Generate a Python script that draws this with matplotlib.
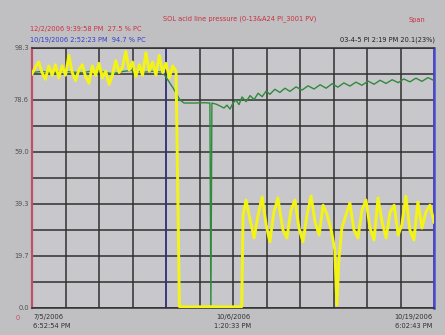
import numpy as np
import matplotlib
matplotlib.use("Agg")
import matplotlib.pyplot as plt

# trend values, x in grid units (12 divisions of 10), y in % of span
yellow_x = [0, 1, 2, 3, 4, 5, 6, 7, 8, 9, 10, 11, 12, 13, 14, 15, 16, 17, 18, 19, 20, 21,
            22, 23, 24, 25, 26, 27, 28, 29, 30, 31, 32, 33, 34, 35, 36, 37, 38, 39, 40, 41,
            42, 43, 44.0, 48.0, 53.0, 58.0, 62.6,
            63.0, 63.9, 65.1, 66.3, 67.5, 68.7, 69.9, 71.0, 72.2, 73.4, 74.9, 76.1, 77.3,
            78.5, 79.7, 80.9, 82.1, 83.3, 84.5, 85.7, 86.9, 88.1, 89.3, 90.4, 91.0, 91.6,
            92.5, 93.7, 94.9, 96.1, 97.3, 98.5, 99.7, 100.9, 102.1, 103.3, 104.5, 105.7,
            106.9, 108.1, 109.3, 110.4, 111.6, 112.8, 114.0, 115.2, 116.4, 117.6, 118.8, 120.0]
yellow_y = [88.5, 91, 93, 89, 86.5, 91.5, 88, 92, 87, 91.5, 88, 95.5, 89, 86, 90, 92, 87.5,
            85, 91.5, 88, 92.5, 87, 89.5, 84.5, 88, 93.5, 89, 91, 97, 90, 93, 87.5, 92, 88,
            96.5, 89.5, 93, 88, 95.5, 89, 92.5, 87, 91.5, 89.5, 0.5, 0.4, 0.5, 0.4, 0.5,
            35.2, 40.8, 33.3, 26.5, 35.2, 42.0, 31.4, 25.0, 36.3, 41.6, 29.5, 26.5, 37.0,
            40.8, 30.2, 25.0, 35.2, 42.3, 32.5, 27.6, 38.9, 35.2, 29.5, 21.9, 1.1, 18.1,
            30.2, 35.2, 39.7, 29.5, 26.5, 37.0, 40.8, 30.2, 25.7, 41.6, 32.5, 26.5,
            36.3, 38.9, 27.6, 31.4, 42.3, 29.5, 25.7, 40.1, 30.2, 36.3, 38.9, 32.5]

green_x = [0, 3, 6, 9, 12, 15, 18, 21, 24, 27, 30, 33, 36, 39, 42.1,
           44.2, 45.4, 48.7, 51.6, 53.1, 53.4, 53.7, 54.9, 56.1, 57.3, 58.2, 59.1, 60.0,
           60.9, 61.8, 62.7, 63.9, 65.1, 66.3, 67.5, 68.7, 69.9, 71.0, 72.5, 74.0, 75.5,
           77.0, 78.8, 80.6, 82.4, 84.2, 86.0, 87.8, 89.6, 91.3, 93.1, 94.9, 96.7, 98.5,
           100.3, 102.1, 103.9, 105.7, 107.5, 109.3, 111.0, 112.8, 114.6, 116.4, 118.2, 120.0]
green_y = [89.0, 89.5, 88.8, 89.6, 89.2, 88.9, 89.7, 89.3, 88.6, 89.4, 89.9, 89.1, 89.5, 89.2, 83.2,
           78.6, 77.5, 77.5, 77.6, 77.5, 0.2, 77.5, 77.1, 76.4, 75.6, 76.7, 75.2, 77.5,
           78.6, 76.9, 79.8, 78.0, 80.3, 78.8, 81.2, 79.9, 82.0, 80.8, 82.7, 81.5, 83.1,
           81.9, 83.6, 82.4, 84.0, 82.8, 84.4, 83.1, 84.8, 83.5, 85.1, 83.9, 85.4, 84.2,
           85.8, 84.6, 86.1, 84.9, 86.3, 85.2, 86.6, 85.5, 86.9, 85.7, 87.1, 86.0]

span_top = 98.3
y_labels = ["98.3", "78.6", "59.0", "39.3", "19.7", "0.0"]
time_labels = [("7/5/2006", "6:52:54 PM"), ("10/6/2006", "1:20:33 PM"), ("10/19/2006", "6:02:43 PM")]

title = "SOL acid line pressure (0-13&A24 PI_3001 PV)"
cursor_red = "12/2/2006 9:39:58 PM  27.5 % PC"
cursor_blue = "10/19/2006 2:52:23 PM  94.7 % PC"
right_info = "03-4-5 PI 2:19 PM 20.1(23%)"

bg = "#c0c0c2"
fig = plt.figure(figsize=(4.45, 3.35), dpi=100, facecolor=bg)
ax = fig.add_axes([32 / 445, 27 / 335, 402 / 445, 260 / 335])
ax.set_facecolor("#c8c8cc")

ax.set_xlim(0, 120)
ax.set_ylim(0, span_top)
ax.set_xticks(np.arange(0, 121, 10))
ax.set_yticks(np.linspace(0, span_top, 11))
ax.grid(True, color="#303030", lw=1.1)
ax.tick_params(length=0, labelbottom=False, labelleft=False)
# one vertical grid line is blue on the original
ax.axvline(40, color="#34348c", lw=1.1)

for s in ["top", "bottom"]:
    ax.spines[s].set_color("#303030")
    ax.spines[s].set_linewidth(1.1)
ax.spines["left"].set_color("#c0506a")
ax.spines["left"].set_linewidth(1.6)
ax.spines["right"].set_color("#4a4ad0")
ax.spines["right"].set_linewidth(1.8)

ax.plot(green_x, green_y, color="#2f8a3c", lw=1.0, zorder=3)
ax.plot(yellow_x, yellow_y, color="#f4f414", lw=2.1, zorder=4)

# y labels on every other grid line
for i, lab in enumerate(y_labels):
    ax.text(-0.008, 1 - i * 0.2, lab, transform=ax.transAxes, ha="right", va="center",
            fontsize=4.8, color="#505050")
ax.text(-0.03, -0.04, "0", transform=ax.transAxes, ha="right", va="center",
        fontsize=4.8, color="#c0506a")

# time labels below
for (d, t), xf, ha in zip(time_labels, [0.003, 0.5, 0.995], ["left", "center", "right"]):
    ax.text(xf, -0.022, d, transform=ax.transAxes, ha=ha, va="top", fontsize=4.8, color="#303030")
    ax.text(xf, -0.056, t, transform=ax.transAxes, ha=ha, va="top", fontsize=4.8, color="#303030")

fig.text(240 / 445, 1 - 19 / 335, title, ha="center", va="center", fontsize=4.8, color="#c83040")
fig.text(425 / 445, 1 - 20 / 335, "Span", ha="right", va="center", fontsize=4.8, color="#c83040")
fig.text(30 / 445, 1 - 29 / 335, cursor_red, ha="left", va="center", fontsize=4.8, color="#d03040")
fig.text(30 / 445, 1 - 40 / 335, cursor_blue, ha="left", va="center", fontsize=4.8, color="#3040d0")
fig.text(435 / 445, 1 - 40 / 335, right_info, ha="right", va="center", fontsize=4.8, color="#202020")

fig.savefig("out.png", dpi=100, facecolor=bg)
